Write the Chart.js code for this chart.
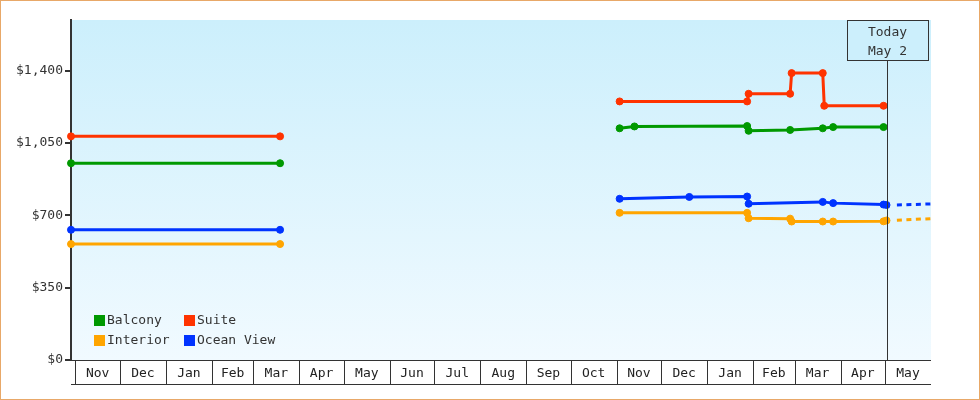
<!DOCTYPE html>
<html><head><meta charset="utf-8">
<script src="https://cdn.jsdelivr.net/npm/chart.js@4.4.1/dist/chart.umd.min.js"></script>
<style>html,body{margin:0;padding:0;background:#fff;}canvas{display:block;}</style>
</head><body>
<canvas id="c" width="980" height="400"></canvas>
<script>
// ---------- data ----------
const seriesNames  = ['Balcony', 'Suite', 'Interior', 'Ocean View'];
const seriesColors = ['#009900', '#ff3300', '#ffa500', '#0033ff'];

const balconyDates  = ['2021-10-29','2022-03-19',null,'2022-11-03','2022-11-13','2023-01-28','2023-01-29','2023-02-26','2023-03-20','2023-03-27','2023-04-30'];
const balconyValues = [952, 952, null, 1121, 1130, 1132, 1109, 1113, 1121, 1127, 1127];

const suiteDates  = ['2021-10-29','2022-03-19',null,'2022-11-03','2023-01-28','2023-01-29','2023-02-26','2023-02-27','2023-03-20','2023-03-21','2023-04-30'];
const suiteValues = [1082, 1082, null, 1251, 1251, 1288, 1288, 1388, 1388, 1230, 1230];

const interiorDates  = ['2021-10-29','2022-03-19',null,'2022-11-03','2023-01-28','2023-01-29','2023-02-26','2023-02-27','2023-03-20','2023-03-27','2023-04-30','2023-05-02'];
const interiorValues = [561, 561, null, 712, 712, 686, 684, 670, 670, 670, 671, 675];

const oceanDates  = ['2021-10-29','2022-03-19',null,'2022-11-03','2022-12-20','2023-01-28','2023-01-29','2023-03-20','2023-03-27','2023-04-30','2023-05-02'];
const oceanValues = [630, 630, null, 780, 789, 791, 756, 765, 759, 752, 750];

const forecastDates    = ['2023-05-09', '2023-06-01'];
const interiorForecast = [676, 684];
const oceanForecast    = [750, 755];

const monthLabels = ['Nov','Dec','Jan','Feb','Mar','Apr','May','Jun','Jul','Aug','Sep','Oct','Nov','Dec','Jan','Feb','Mar','Apr','May'];
const monthStarts = ['2021-11-01','2021-12-01','2022-01-01','2022-02-01','2022-03-01','2022-04-01','2022-05-01','2022-06-01','2022-07-01','2022-08-01','2022-09-01','2022-10-01','2022-11-01','2022-12-01','2023-01-01','2023-02-01','2023-03-01','2023-04-01','2023-05-01'];
const axisStart = '2021-10-29';
const axisEnd   = '2023-06-01';
const yTicks = [0, 350, 700, 1050, 1400];
const yMax = 1645;
const todayDate  = '2023-05-02';
const todayLines = ['Today', 'May 2'];

// ---------- helpers ----------
function dayNum(s) {
  const p = s.split('-').map(Number);
  return Date.UTC(p[0], p[1] - 1, p[2]) / 86400000;
}
function pts(dates, values) {
  return dates.map((d, i) => d === null ? { x: NaN, y: null } : { x: dayNum(d), y: values[i] });
}
const FONT = 'DejaVu Sans Mono';
Chart.defaults.font.family = FONT;
Chart.defaults.font.size = 13;

function mainDs(i, dates, values) {
  return {
    label: seriesNames[i], data: pts(dates, values),
    borderColor: seriesColors[i], backgroundColor: seriesColors[i],
    pointBackgroundColor: seriesColors[i], pointBorderColor: seriesColors[i],
    borderWidth: 3, pointRadius: 3.5, pointBorderWidth: 1, pointHoverRadius: 3.5,
    tension: 0, spanGaps: false, fill: false, clip: false
  };
}
function fcDs(i, values) {
  return {
    label: seriesNames[i] + ' forecast', data: pts(forecastDates, values),
    borderColor: seriesColors[i], borderWidth: 3, borderDash: [5, 4.5],
    pointRadius: 0, tension: 0, fill: false
  };
}

// ---------- plugins ----------
const bgPlugin = {
  id: 'bg',
  beforeDraw(chart) {
    const { ctx, chartArea: a } = chart;
    ctx.save();
    ctx.fillStyle = '#ffffff';
    ctx.fillRect(0, 0, chart.width, chart.height);
    const g = ctx.createLinearGradient(0, a.top, 0, a.bottom);
    g.addColorStop(0, '#cceffc');
    g.addColorStop(1, '#f1faff');
    ctx.fillStyle = g;
    ctx.fillRect(a.left, a.top, a.right - a.left, a.bottom - a.top);
    ctx.restore();
  }
};

const decorPlugin = {
  id: 'decor',
  afterDraw(chart) {
    const { ctx, chartArea: a } = chart;
    const xs = chart.scales.x;
    ctx.save();
    // month boxes
    ctx.strokeStyle = '#333';
    ctx.lineWidth = 1;
    ctx.beginPath();
    ctx.moveTo(a.left, a.bottom + 0.5); ctx.lineTo(a.right, a.bottom + 0.5);
    ctx.moveTo(a.left, a.bottom + 24.5); ctx.lineTo(a.right, a.bottom + 24.5);
    monthStarts.forEach(m => {
      const px = Math.round(xs.getPixelForValue(dayNum(m))) + 0.5;
      ctx.moveTo(px, a.bottom); ctx.lineTo(px, a.bottom + 25);
    });
    ctx.stroke();
    ctx.fillStyle = '#222';
    ctx.font = '13px "' + FONT + '"';
    ctx.textAlign = 'center';
    ctx.textBaseline = 'middle';
    monthLabels.forEach((lab, i) => {
      const s = dayNum(monthStarts[i]);
      const e = i + 1 < monthStarts.length ? dayNum(monthStarts[i + 1]) : dayNum(axisEnd);
      const px = (xs.getPixelForValue(s) + xs.getPixelForValue(e)) / 2;
      ctx.fillText(lab, px, a.bottom + 14);
    });

    // today marker
    const tx = Math.round(xs.getPixelForValue(dayNum(todayDate))) + 0.5;
    ctx.beginPath();
    ctx.moveTo(tx, a.top + 40); ctx.lineTo(tx, a.bottom);
    ctx.stroke();
    ctx.fillStyle = '#cceffc';
    ctx.fillRect(tx - 40, a.top + 0.5, 81, 40);
    ctx.strokeRect(tx - 40, a.top + 0.5, 81, 40);
    ctx.fillStyle = '#333';
    ctx.fillText(todayLines[0], tx, a.top + 13);
    ctx.fillText(todayLines[1], tx, a.top + 32);

    // legend
    const cols = [a.left + 23, a.left + 113];
    const rows = [a.bottom - 45, a.bottom - 25];
    ctx.textAlign = 'left';
    for (let i = 0; i < 4; i++) {
      const cx = cols[i % 2], cy = rows[Math.floor(i / 2)];
      ctx.fillStyle = chart.data.datasets[i].borderColor;
      ctx.fillRect(cx, cy, 11, 11);
      ctx.fillStyle = '#333';
      ctx.fillText(chart.data.datasets[i].label, cx + 13, cy + 6);
    }

    // outer border
    ctx.strokeStyle = '#e8a868';
    ctx.strokeRect(0.5, 0.5, chart.width - 1, chart.height - 1);
    ctx.restore();
  }
};

new Chart(document.getElementById('c'), {
  type: 'line',
  data: {
    datasets: [
      mainDs(0, balconyDates, balconyValues),
      mainDs(1, suiteDates, suiteValues),
      mainDs(2, interiorDates, interiorValues),
      mainDs(3, oceanDates, oceanValues),
      fcDs(2, interiorForecast),
      fcDs(3, oceanForecast)
    ]
  },
  options: {
    responsive: false,
    devicePixelRatio: 1,
    animation: false,
    events: [],
    layout: { padding: { left: 0, top: 20, right: 49, bottom: 40 } },
    plugins: { legend: { display: false }, tooltip: { enabled: false } },
    scales: {
      x: {
        type: 'linear', display: false,
        min: dayNum(axisStart), max: dayNum(axisEnd)
      },
      y: {
        min: 0, max: yMax,
        afterBuildTicks: s => { s.ticks = yTicks.map(v => ({ value: v })); },
        afterFit: s => { s.width = 71; },
        ticks: {
          callback: v => '$' + Number(v).toLocaleString('en-US'),
          color: '#333', padding: 2, font: { family: FONT, size: 13 }
        },
        grid: { drawOnChartArea: false, drawTicks: true, tickLength: 6, color: '#333', lineWidth: 2 },
        border: { display: true, color: '#333', width: 2 }
      }
    }
  },
  plugins: [bgPlugin, decorPlugin]
});
</script>
</body></html>
